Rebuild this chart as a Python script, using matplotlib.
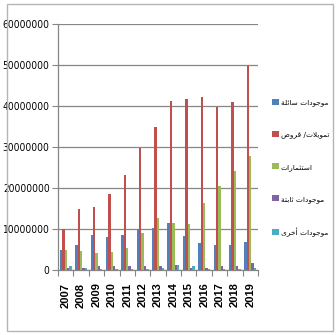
import numpy as np
import matplotlib
matplotlib.use("Agg")
import matplotlib.pyplot as plt
from matplotlib import font_manager
from matplotlib.patches import Rectangle, Patch

years = ["2007", "2008", "2009", "2010", "2011", "2012", "2013",
         "2014", "2015", "2016", "2017", "2018", "2019"]
series_names = ["موجودات سائلة", "تمويلات/ قروض", "استثمارات", "موجودات ثابتة", "موجودات أخرى"]
liquid = [5000000, 6100000, 8600000, 8100000, 8600000, 9900000, 10200000,
          11400000, 8400000, 6500000, 6200000, 6100000, 6800000]
loans = [10000000, 15000000, 15300000, 18600000, 23200000, 29800000, 34900000,
         41200000, 41800000, 42100000, 39800000, 40900000, 49700000]
invest = [4900000, 4700000, 4200000, 4300000, 5300000, 9000000, 12600000,
          11400000, 11100000, 16300000, 20400000, 24100000, 27700000]
fixed = [400000, 500000, 1000000, 1000000, 1000000, 1000000, 1000000,
         1300000, 600000, 600000, 1000000, 1000000, 1600000]
other = [1000000, 500000, 300000, 300000, 200000, 300000, 400000,
         1200000, 1000000, 200000, 200000, 300000, 400000]
colors = ["#4F81BD", "#C0504D", "#9BBB59", "#8064A2", "#4BACC6"]
yticks = [0, 10000000, 20000000, 30000000, 40000000, 50000000, 60000000]

# minimal Arabic shaping (presentation forms) + right-to-left visual order
DUAL = {'ب': 0xFE8F, 'ت': 0xFE95, 'ث': 0xFE99, 'ج': 0xFE9D, 'خ': 0xFEA5,
        'س': 0xFEB1, 'ض': 0xFEBD, 'ق': 0xFED5, 'ل': 0xFEDD, 'م': 0xFEE1,
        'ي': 0xFEF1, 'ئ': 0xFE89}
RIGHT = {'ا': 0xFE8D, 'أ': 0xFE83, 'ة': 0xFE93, 'د': 0xFEA9, 'ر': 0xFEAD,
         'و': 0xFEED, 'ى': 0xFEEF}


def shape(text):
    toks = []
    i = 0
    while i < len(text):
        c = text[i]
        if c == 'ل' and i + 1 < len(text) and text[i + 1] in ('ا', 'أ'):
            toks.append(('R', 0xFEFB if text[i + 1] == 'ا' else 0xFEF7))
            i += 2
            continue
        if c in DUAL:
            toks.append(('D', DUAL[c]))
        elif c in RIGHT:
            toks.append(('R', RIGHT[c]))
        else:
            toks.append(('N', c))
        i += 1
    out = []
    for k, (t, b) in enumerate(toks):
        if t == 'N':
            out.append(b)
            continue
        prev_j = k > 0 and toks[k - 1][0] == 'D'
        next_j = t == 'D' and k + 1 < len(toks) and toks[k + 1][0] in ('D', 'R')
        if prev_j and next_j:
            f = 3
        elif prev_j:
            f = 1
        elif next_j:
            f = 2
        else:
            f = 0
        out.append(chr(b + f))
    return ''.join(reversed(out))


# pick a condensed font for the value axis if one is installed
ytick_prop = None
for f in font_manager.fontManager.ttflist:
    if f.name == 'Liberation Sans Narrow' and f.weight in (400, 'normal', 'regular') and f.style == 'normal':
        ytick_prop = font_manager.FontProperties(fname=f.fname, size=7.6)
        break
if ytick_prop is None:
    for f in font_manager.fontManager.ttflist:
        st = str(f.stretch)
        if f.name in ('DejaVu Sans', 'Noto Sans', 'Open Sans', 'Roboto', 'Liberation Sans') \
                and 'condensed' in st and f.style == 'normal' and f.weight in (400, 'normal', 'regular'):
            ytick_prop = font_manager.FontProperties(fname=f.fname, size=7.3)
            break
if ytick_prop is None:
    ytick_prop = font_manager.FontProperties(family='Liberation Sans', size=6.4)

fig = plt.figure(figsize=(3.36, 3.35), dpi=100)
W, H = 336, 335
fig.patches.append(Rectangle((7 / W, 1 - 331 / H), 326 / W, 327 / H,
                             transform=fig.transFigure, fill=False,
                             edgecolor="#b5b5b5", linewidth=1.0))
ax = fig.add_axes([58 / W, 1 - 270 / H, 200 / W, 246 / H])

x = np.arange(len(years))
w = 1 / 6.5
data = [liquid, loans, invest, fixed, other]
for i, (vals, col, name) in enumerate(zip(data, colors, series_names)):
    ax.bar(x + (i - 2) * w, vals, width=w, color=col, label=name, zorder=3, linewidth=0)

ax.set_xlim(-0.5, len(years) - 0.5)
ax.set_ylim(0, 60000000)
ax.set_yticks(yticks)
ax.set_yticklabels([str(v) for v in yticks], fontproperties=ytick_prop)
ax.set_xticks(np.arange(-0.5, len(years), 1))
ax.set_xticklabels([])
ax.set_xticks(x, minor=True)
ax.set_xticklabels(years, minor=True, rotation=90, fontfamily='Liberation Sans',
                   fontsize=8, fontweight='bold')
ax.tick_params(axis='x', which='major', length=4, color="#868686", width=0.8)
ax.tick_params(axis='x', which='minor', length=0, pad=9)
ax.tick_params(axis='y', length=4, color="#868686", width=0.8, pad=2)
ax.grid(axis='y', color="#868686", linewidth=0.9, zorder=0)
for s in ['top', 'right']:
    ax.spines[s].set_visible(False)
for s in ['left', 'bottom']:
    ax.spines[s].set_color("#868686")
    ax.spines[s].set_linewidth(0.9)

handles = [Patch(facecolor=c, edgecolor='none') for c in colors]
labels = [shape(n) for n in series_names]
fig.legend(handles, labels, loc='upper left', bbox_to_anchor=(272 / W, 1 - 99 / H),
           frameon=False, prop={'family': 'DejaVu Sans', 'size': 5.3},
           handlelength=0.9, handleheight=0.9, handletextpad=0.3,
           labelspacing=3.35, borderaxespad=0, borderpad=0)

fig.savefig("out.png", dpi=100)
